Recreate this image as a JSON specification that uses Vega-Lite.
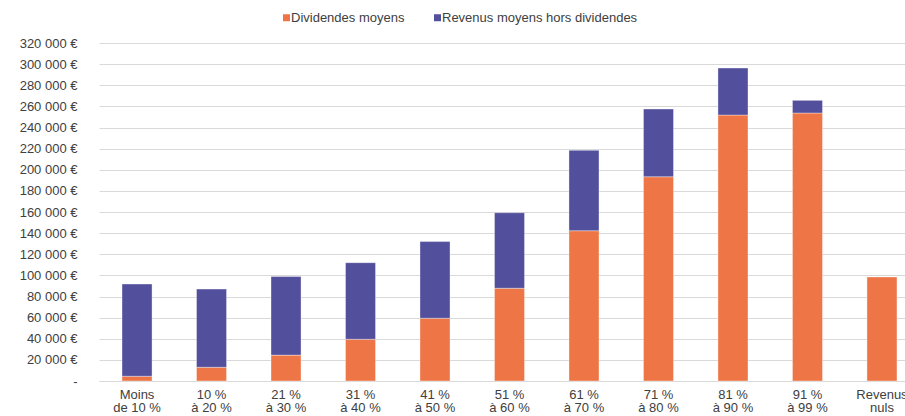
{
  "$schema": "https://vega.github.io/schema/vega-lite/v6.json",
  "autosize": "none",
  "width": 821,
  "height": 338,
  "padding": {"left": 99, "top": 43, "right": -15, "bottom": 35},
  "background": "white",
  "config": {
    "font": "Liberation Sans",
    "view": {"stroke": null}
  },
  "data": {
    "values": [
      {"cat": "Moins|de 10 %", "serie": "Dividendes moyens", "val": 4500},
      {"cat": "Moins|de 10 %", "serie": "Revenus moyens hors dividendes", "val": 87300},
      {"cat": "10 %|à 20 %", "serie": "Dividendes moyens", "val": 13000},
      {"cat": "10 %|à 20 %", "serie": "Revenus moyens hors dividendes", "val": 74000},
      {"cat": "21 %|à 30 %", "serie": "Dividendes moyens", "val": 24500},
      {"cat": "21 %|à 30 %", "serie": "Revenus moyens hors dividendes", "val": 74400},
      {"cat": "31 %|à 40 %", "serie": "Dividendes moyens", "val": 39500},
      {"cat": "31 %|à 40 %", "serie": "Revenus moyens hors dividendes", "val": 72500},
      {"cat": "41 %|à 50 %", "serie": "Dividendes moyens", "val": 59400},
      {"cat": "41 %|à 50 %", "serie": "Revenus moyens hors dividendes", "val": 72600},
      {"cat": "51 %|à 60 %", "serie": "Dividendes moyens", "val": 87800},
      {"cat": "51 %|à 60 %", "serie": "Revenus moyens hors dividendes", "val": 71500},
      {"cat": "61 %|à 70 %", "serie": "Dividendes moyens", "val": 142300},
      {"cat": "61 %|à 70 %", "serie": "Revenus moyens hors dividendes", "val": 76100},
      {"cat": "71 %|à 80 %", "serie": "Dividendes moyens", "val": 193400},
      {"cat": "71 %|à 80 %", "serie": "Revenus moyens hors dividendes", "val": 64100},
      {"cat": "81 %|à 90 %", "serie": "Dividendes moyens", "val": 251800},
      {"cat": "81 %|à 90 %", "serie": "Revenus moyens hors dividendes", "val": 44500},
      {"cat": "91 %|à 99 %", "serie": "Dividendes moyens", "val": 253700},
      {"cat": "91 %|à 99 %", "serie": "Revenus moyens hors dividendes", "val": 12000},
      {"cat": "Revenus|nuls", "serie": "Dividendes moyens", "val": 98500}
    ]
  },
  "mark": {"type": "bar", "stroke": "#ffffff", "strokeWidth": 0.6, "strokeOpacity": 0.6},
  "encoding": {
    "x": {
      "field": "cat",
      "type": "nominal",
      "sort": null,
      "scale": {"paddingInner": 0.597, "paddingOuter": 0.309},
      "axis": {
        "title": null,
        "labelAngle": 0,
        "labelExpr": "split(datum.label, '|')",
        "labelFontSize": 13,
        "labelColor": "#404040",
        "labelPadding": 7,
        "labelLineHeight": 13.5,
        "labelLimit": 0,
        "ticks": false,
        "domain": true,
        "domainColor": "#d9d9d9",
        "domainWidth": 1
      }
    },
    "y": {
      "field": "val",
      "type": "quantitative",
      "stack": "zero",
      "scale": {"domain": [0, 320000], "nice": false},
      "axis": {
        "title": null,
        "values": [0, 20000, 40000, 60000, 80000, 100000, 120000, 140000, 160000, 180000, 200000, 220000, 240000, 260000, 280000, 300000, 320000],
        "labelExpr": "datum.value == 0 ? '-\u00a0\u00a0\u00a0\u00a0\u00a0' : replace(format(datum.value, ','), ',', ' ') + ' €'",
        "labelFontSize": 13,
        "labelColor": "#404040",
        "labelPadding": 22,
        "ticks": false,
        "domain": false,
        "grid": true,
        "gridColor": "#d9d9d9",
        "gridWidth": 1
      }
    },
    "color": {
      "field": "serie",
      "type": "nominal",
      "scale": {
        "domain": ["Dividendes moyens", "Revenus moyens hors dividendes"],
        "range": ["#EE7646", "#524F9C"]
      },
      "legend": {
        "title": null,
        "orient": "none",
        "direction": "horizontal",
        "legendX": 181,
        "legendY": -32,
        "symbolType": "square",
        "symbolSize": 49,
        "symbolStrokeWidth": 0,
        "labelFontSize": 13,
        "labelColor": "#404040",
        "labelOffset": -2,
        "labelLimit": 0,
        "columnPadding": 26
      }
    },
    "order": {"field": "serie", "sort": "ascending"}
  }
}
